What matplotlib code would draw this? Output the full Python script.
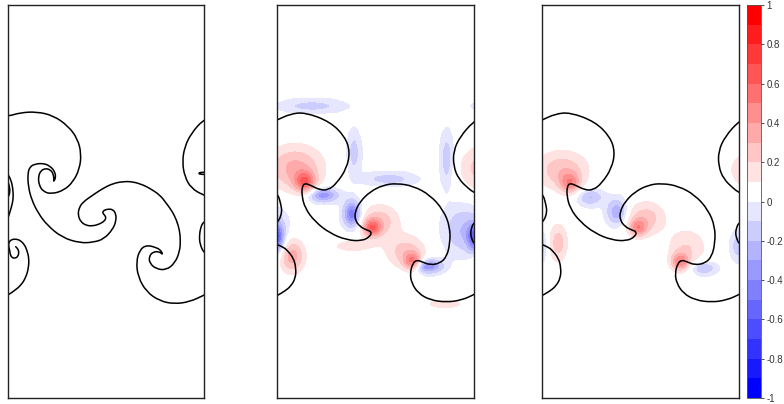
import numpy as np
import matplotlib.pyplot as plt
from matplotlib.path import Path
from matplotlib.patches import PathPatch

plt.rcParams['font.family'] = ['Liberation Sans', 'DejaVu Sans']
plt.rcParams['axes.unicode_minus'] = False

# domain size (lattice units)
LX, LY = 196.5, 393.0

# ======================================================================================================================
# interface, panel 1 (x, y) in lattice units
p1_lobe = [(-4, 282.5), (0, 281.5), (12.5, 285.3), (29, 286.3), (45.7, 282.5), (60.7, 272), (70.2, 259), (73.8, 244),
           (72, 229), (65.7, 216.3), (56.5, 207.7), (44.2, 204), (35.8, 206.3), (31.5, 213), (30.8, 221.3),
           (33.2, 227.3), (38.2, 229.7), (43.2, 228), (45.8, 224), (46.5, 218), (45.8, 216.3),
           (48.2, 219.7), (47.5, 226.3), (42.5, 232), (35.8, 234.7), (27.5, 234), (22.5, 231.3), (20.2, 224.7),
           (20.8, 211.3), (24.2, 198), (30.8, 184.7), (39.5, 173), (54.5, 160.5), (72.5, 155), (85.8, 155.7),
           (96.5, 159), (105.5, 169), (108.5, 177), (108.5, 184), (105.5, 188.5), (100.5, 189), (96, 187.5),
           (95, 185), (97.5, 182.5), (98.5, 180), (97, 177), (92.2, 174), (85.5, 172), (78.5, 172.5), (73, 176.5),
           (70.5, 183), (71.5, 190), (75.5, 196), (85.5, 203), (95.5, 209.7), (105.5, 214.5), (115.5, 216.5),
           (125.5, 216.3), (135.8, 213), (142.5, 209.5), (152.5, 203), (158.8, 194.7), (164.5, 187), (169, 178),
           (172, 168), (173, 158), (172.2, 146.3), (167.2, 134.7), (158.8, 128), (148.8, 129), (142.2, 134.7),
           (141.5, 141.3), (145.5, 146.3), (152.2, 146.3), (155.5, 143), (153.5, 147.5), (148.8, 150.5),
           (138.8, 153), (132.2, 148), (128.8, 136.3), (130.5, 121.3), (138.8, 106.3), (152.2, 97), (167.2, 94),
           (182.2, 96.3), (195.5, 102.3), (200.5, 105)]
p1_spiral = [(-4.5, 100), (0.5, 103), (6.5, 107), (13.8, 113), (18.5, 121), (21, 130), (21.5, 139.7), (19.5, 147.5),
             (17.2, 153), (13, 157.5), (8.5, 159), (4, 158.5), (1.5, 156), (1, 152), (2.2, 148), (2.8, 143),
             (4.8, 140.2), (7.2, 139.7), (10.5, 141.3), (11.5, 146.3), (10, 149.5), (8.2, 151.3)]
p1_right_arc = [(200.5, 179), (195.8, 176.3), (193, 170), (191.8, 161.3), (192.5, 154), (195.8, 146), (200.5, 143)]
p1_left_arc = [(-4.5, 176), (-0.2, 178), (2.5, 186), (5, 195), (5.8, 201.3), (5.3, 210), (3.5, 218), (-0.2, 225),
               (-4.5, 227)]
p1_finger = [(0, 218), (2, 212), (2.5, 206), (1, 201), (-2.5, 199)]
p1_right_lobe = [(200.5, 280), (195.5, 278), (183.8, 264.7), (177.2, 251.3), (174.8, 236.3), (177.2, 221.3),
                 (183.8, 209.7), (195.5, 203), (200.5, 202)]
p1_tongue = [(200.5, 223.5), (193.5, 223.5), (191, 224.5), (192.5, 225.7), (200.5, 225.7)]

# interface, panels 2 and 3
p2_main = [(-5, 276), (0.3, 278), (13, 284), (28, 285.7), (53, 276.3), (68, 261.3), (73, 246.3), (69.7, 229.7),
           (59.7, 214.7), (51.3, 208), (43, 208), (33, 213), (28, 214.7), (25.3, 212), (24.7, 203), (28, 189.7),
           (38, 176.3), (53, 164.7), (69.7, 158), (84.7, 157), (93, 161.3), (94.7, 166.3), (89.7, 168),
           (83, 171.3), (78, 178), (78, 186.3), (83, 196.3), (93, 206.3), (106.3, 213), (119.7, 214.7),
           (136.3, 212), (153, 203), (166.3, 188), (173, 171.3), (173, 154.7), (169.7, 141.3), (163, 134.7),
           (153, 133), (144.7, 136.3), (139.7, 138), (135.7, 134.7), (133, 124.7), (134.7, 114.7), (141.3, 104.7),
           (153, 98), (169.7, 95.7), (184.7, 98), (196.3, 103), (201, 106)]
p2_right_lobe = [(200, 278), (196.3, 276.3), (183, 261.3), (176.5, 247), (176.5, 232), (181.5, 219), (192, 209),
                 (196.3, 206), (201, 204)]
p2_left_arc = [(-1, 205), (1.3, 203), (4, 193), (5, 186), (2.3, 178), (-1, 175)]
p2_right_arc = [(199, 176), (196.5, 175), (194.5, 170), (193.5, 165), (194.5, 160), (196.5, 155), (199, 154)]
p2_lower_left = [(-1, 154), (6, 151), (10, 148), (16.5, 140), (19, 130), (18.5, 120), (14, 112), (8, 107),
                 (0.3, 102.5), (-3, 101)]

# ======================================================================================================================
# field blobs: x, y, amplitude, sigma_x, sigma_y
p2_blobs = [(28, 216, 0.45, 7, 7), (18, 230, 0.33, 20, 16), (95, 170, 0.45, 6, 6), (103, 177, 0.25, 14, 12),
            (136, 136, 0.45, 6, 6), (129, 146, 0.25, 14, 12), (15, 142, 0.35, 9, 12), (75, 152, 0.15, 16, 5),
            (168, 94, 0.13, 20, 5),
            (35, 292, -0.14, 22, 5), (77, 245, -0.15, 5, 15), (46, 203, -0.40, 10, 5), (75, 184, -0.50, 6, 9),
            (150, 132, -0.45, 10, 5), (197, 160, -0.50, 5, 10), (186, 168, -0.20, 13, 16),
            (112, 219, -0.15, 18, 5), (170, 238, -0.18, 5, 18)]
p3_blobs = [(28, 215, 0.35, 7, 7), (20, 228, 0.27, 19, 14), (96, 170, 0.35, 6, 6), (104, 180, 0.25, 14, 12),
            (138, 136, 0.40, 6, 6), (145, 150, 0.20, 14, 14), (16, 155, 0.25, 7, 14),
            (48, 201, -0.22, 9, 6), (75, 186, -0.30, 7, 9), (161, 130, -0.22, 9, 5), (196, 152, -0.18, 5, 10)]

# colour levels
levels = np.linspace(-1, 1, 21)
cbar_ticks = [-1, -0.8, -0.6, -0.4, -0.2, 0, 0.2, 0.4, 0.6, 0.8, 1]
cbar_labels = ['-1', '-0.8', '-0.6', '-0.4', '-0.2', '0', '0.2', '0.4', '0.6', '0.8', '1']

# 20 bin colours: blue -> lavender, then white -> red
bin_colors = [(1 - j / 10, 1 - j / 10, 1.0) for j in range(10, 0, -1)] + \
             [(1.0, 1 - k / 9, 1 - k / 9) for k in range(10)]

xs = np.linspace(0, LX, 240)
ys = np.linspace(0, LY, 480)
X, Y = np.meshgrid(xs, ys)


def make_field(blobs):
    f = np.zeros_like(X)
    for x0, y0, a, sx, sy in blobs:
        for shift in (-LX, 0, LX):  # periodic in x
            f += a * np.exp(-((X - x0 - shift) ** 2 / (2 * sx ** 2) + (Y - y0) ** 2 / (2 * sy ** 2)))
    # weak values -> background (white bin)
    f[np.abs(f) < 0.03] = 0.01
    return np.clip(f, -0.999, 0.999)


def draw_curves(ax, segments):
    # smooth path: read points used as quadratic bezier control points
    for seg in segments:
        pts = np.array(seg, dtype=float)
        verts = [pts[0]]
        codes = [Path.MOVETO]
        for i in range(1, len(pts) - 1):
            verts += [pts[i], (pts[i] + pts[i + 1]) / 2]
            codes += [Path.CURVE3, Path.CURVE3]
        verts.append(pts[-1])
        codes.append(Path.LINETO)
        ax.add_patch(PathPatch(Path(verts, codes), facecolor='none', edgecolor='black', lw=1.1,
                               capstyle='round', joinstyle='round'))


def setup(ax):
    ax.set_xlim(0, LX)
    ax.set_ylim(0, LY)
    ax.set_xticks([])
    ax.set_yticks([])
    for s in ax.spines.values():
        s.set_color('#222222')
        s.set_linewidth(1.0)


fig = plt.figure(figsize=(7.84, 4.04), dpi=100)
W, H = 784, 404
ax1 = fig.add_axes([7.5 / W, 6 / H, 196.5 / W, 393 / H])
ax2 = fig.add_axes([277 / W, 6 / H, 196.5 / W, 393 / H])
ax3 = fig.add_axes([542 / W, 6 / H, 196.5 / W, 393 / H])
cax = fig.add_axes([747 / W, 6 / H, 14 / W, 393 / H])

# panel 1: interface only
draw_curves(ax1, [p1_lobe, p1_spiral, p1_right_arc, p1_left_arc, p1_finger, p1_right_lobe, p1_tongue])
setup(ax1)

# panels 2 and 3: field + interface
p2_segments = [p2_main, p2_right_lobe, p2_left_arc, p2_right_arc, p2_lower_left]
cs = None
for ax, blobs in [(ax2, p2_blobs), (ax3, p3_blobs)]:
    cs = ax.contourf(X, Y, make_field(blobs), levels=levels, colors=bin_colors)
    draw_curves(ax, p2_segments)
    setup(ax)

cb = fig.colorbar(cs, cax=cax, ticks=cbar_ticks)
cb.ax.set_yticklabels(cbar_labels)
cb.ax.tick_params(labelsize=7, length=2.5, width=0.6, colors='#333333', pad=1.5)
cb.outline.set_linewidth(0.6)
cb.outline.set_edgecolor('#555555')

fig.savefig('out.png', dpi=100)
